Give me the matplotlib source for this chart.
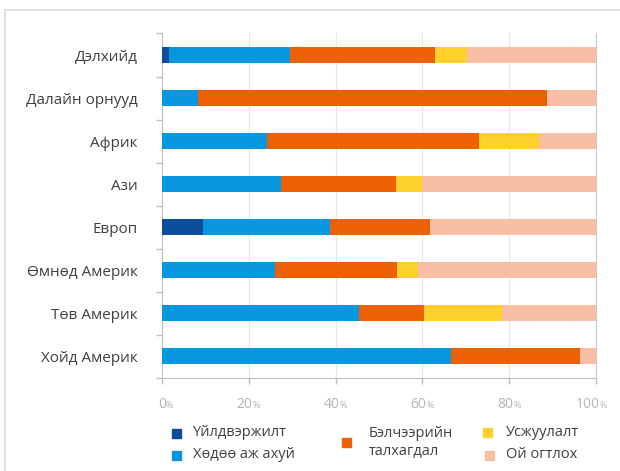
import numpy as np
import matplotlib.pyplot as plt
from matplotlib.patches import Rectangle
from matplotlib.lines import Line2D
import matplotlib.transforms as mtransforms

plt.rcParams['font.family'] = ['Open Sans', 'DejaVu Sans']

# regions (top to bottom) and shares of each cause of degradation, %
regions = ['Дэлхийд', 'Далайн орнууд', 'Африк', 'Ази', 'Европ',
           'Өмнөд Америк', 'Төв Америк', 'Хойд Америк']
industry = [1.6, 0, 0, 0, 9.5, 0, 0, 0]
agriculture = [27.9, 8.2, 24.1, 27.4, 29.2, 26.1, 45.3, 66.6]
overgrazing = [33.5, 80.5, 49.0, 26.5, 23.1, 28.1, 15.0, 29.8]
irrigation = [7.2, 0, 13.7, 6.0, 0, 4.9, 18.0, 0]
deforestation = [29.8, 11.3, 13.2, 40.1, 38.2, 40.9, 21.7, 3.6]

series_names = ['Үйлдвэржилт', 'Хөдөө аж ахуй', 'Бэлчээрийн\nталхагдал',
                'Усжуулалт', 'Ой огтлох']
colors = ['#0b4c9b', '#0797e0', '#ec6104', '#fdd02e', '#f8bea6']
xticks = [0, 20, 40, 60, 80, 100]

fig = plt.figure(figsize=(6.2, 4.71), dpi=100)
ax = fig.add_axes([0.2613, 0.1975, 0.700, 0.7314])

y = np.arange(len(regions))
left = np.zeros(len(regions))
for vals, c in zip([industry, agriculture, overgrazing, irrigation, deforestation], colors):
    ax.barh(y, vals, left=left, height=0.37, color=c, zorder=3)
    left += np.array(vals)

ax.set_xlim(0, 100)
ax.set_ylim(len(regions) - 0.5, -0.5)

# y axis: labels at bars, small ticks between categories
ax.set_yticks(y)
ax.set_yticklabels(regions, fontsize=11, color='#404040')
ax.tick_params(axis='y', which='major', length=0, pad=17.5)
ax.set_yticks(np.arange(len(regions) + 1) - 0.5, minor=True)
ax.tick_params(axis='y', which='minor', length=4, color='#bfbfbf', width=1)

# x axis: ticks with gray labels, smaller percent sign
ax.set_xticks(xticks)
ax.set_xticklabels([])
ax.tick_params(axis='x', length=4, color='#bfbfbf', width=1)
trans = mtransforms.blended_transform_factory(ax.transData, fig.transFigure)
for t in xticks:
    ax.text(t + 0.9, 1 - 405 / 471, str(t), transform=trans, ha='right', va='center',
            fontsize=10, color='#b4b4b4')
    ax.text(t + 0.9, 1 - 406 / 471, '%', transform=trans, ha='left', va='center',
            fontsize=6.5, color='#b4b4b4')

ax.grid(axis='x', color='#e8e8e8', linewidth=0.9, zorder=0)
ax.spines['top'].set_visible(False)
ax.spines['right'].set_color('#c8c8c8')
ax.spines['left'].set_color('#bfbfbf')
ax.spines['bottom'].set_color('#bfbfbf')

# legend drawn by hand in three columns: marker centre, text start
W, H = 620.0, 471.0
marker_pos = [(177, 433), (177, 455), (346, 442.5), (488, 432), (489, 455)]
text_x = [193, 193, 369, 506, 506]
for name, c, (px, py), tx in zip(series_names, colors, marker_pos, text_x):
    fig.patches.append(Rectangle(((px - 4.5) / W, 1 - (py + 4.5) / H), 9 / W, 9 / H,
                                 color=c, transform=fig.transFigure))
    fig.text(tx / W, 1 - py / H, name, ha='left', va='center',
             fontsize=10.5, color='#404040', linespacing=1.2)

# light frame around the figure
fig.add_artist(Line2D([5 / W, 1], [1 - 10 / H, 1 - 10 / H], color='#dcdcdc',
                      linewidth=1.2, transform=fig.transFigure))
fig.add_artist(Line2D([5 / W, 5 / W], [0, 1 - 10 / H], color='#dcdcdc',
                      linewidth=1.2, transform=fig.transFigure))

fig.savefig('out.png', dpi=100)
